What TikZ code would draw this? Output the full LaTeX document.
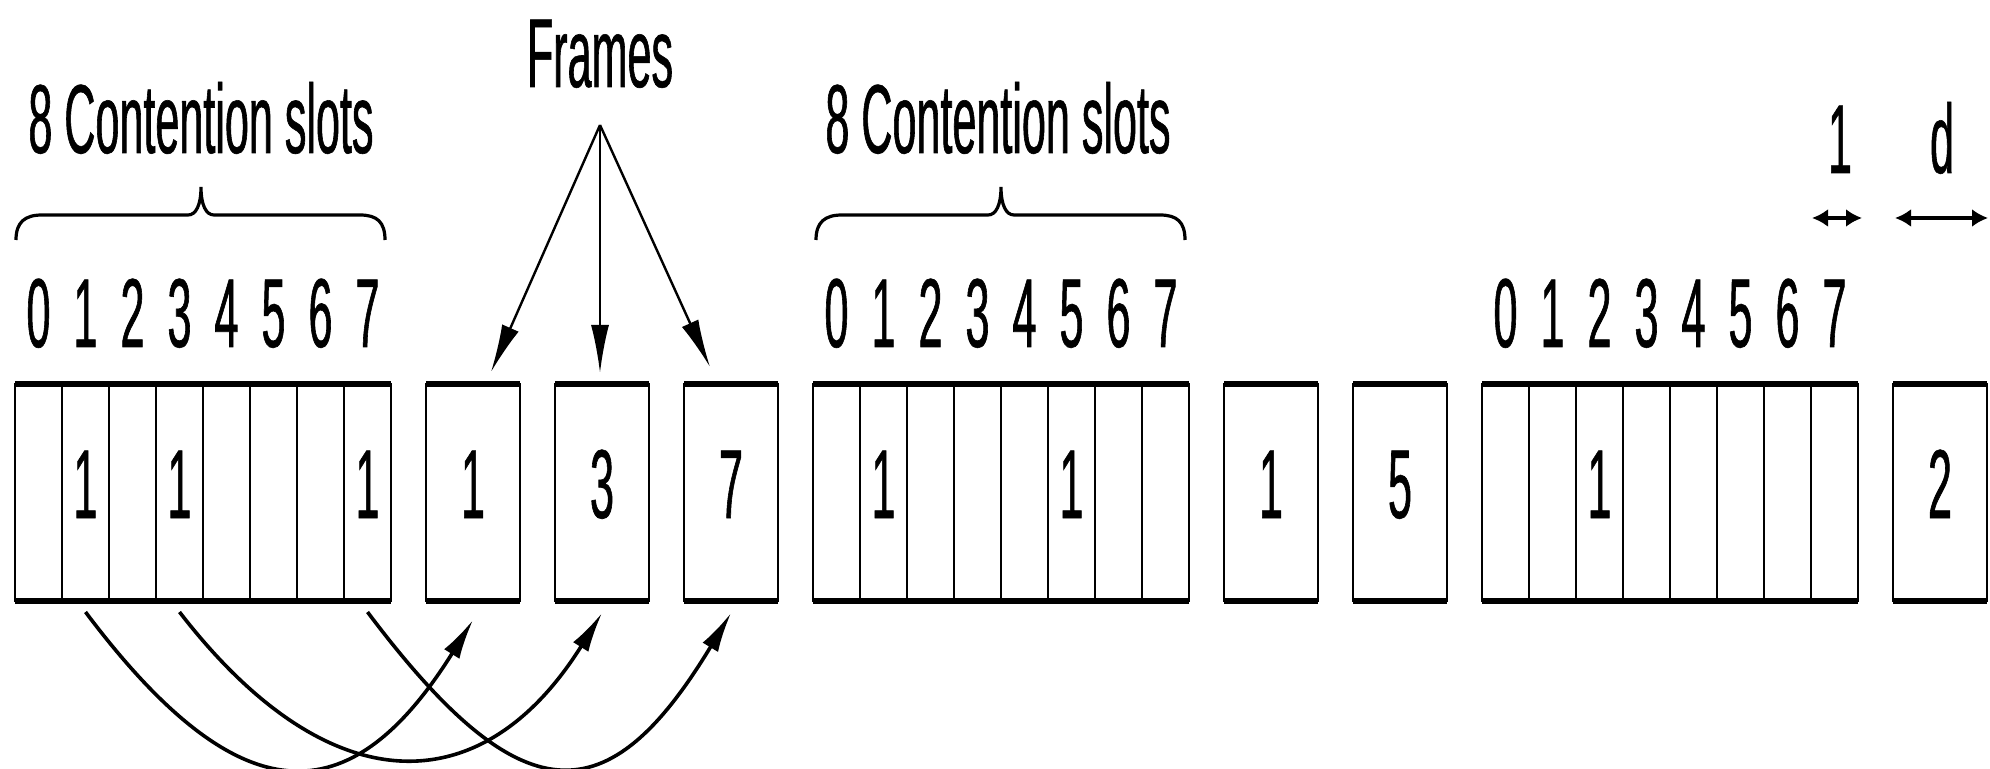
\documentclass[tikz,border=0pt]{standalone}
\usepackage{fontspec}
\setmainfont{Liberation Sans}[FakeStretch=0.44,FakeBold=0.6]
\usetikzlibrary{arrows.meta,calc}
\begin{document}
\begin{tikzpicture}[x=0.5pt,y=-0.5pt,
  every node/.style={font=\fontsize{49}{55}\selectfont, inner sep=0pt, outer sep=0pt},
  cell/.style={draw, line width=1pt, minimum width=23.5pt, minimum height=108.5pt, text height=35pt, text depth=9.5pt},
  fbox/.style={cell, minimum width=47pt},
  rim/.style={line width=3pt},
  lab/.style={anchor=base},
  bracepath/.style={line width=1.6pt},
  farrow/.style={line width=1.2pt, -{Latex[length=24pt,width=9pt]}},
  carrow/.style={line width=1.8pt, -{Latex[length=20pt,width=9pt]}},
  dimarrow/.style={line width=1.8pt, {Latex[length=8pt,width=9pt]}-{Latex[length=8pt,width=9pt]}}
]
\useasboundingbox (0,0) rectangle (1990,769);

% contention groups
\foreach \i/\t in {0/,1/1,2/,3/1,4/,5/,6/,7/1}
  \node[cell] (g1s\i) at ({15+47*\i+23.5},492.5) {\t};
\foreach \i/\t in {0/,1/1,2/,3/,4/,5/1,6/,7/}
  \node[cell] (g2s\i) at ({813+47*\i+23.5},492.5) {\t};
\foreach \i/\t in {0/,1/,2/1,3/,4/,5/,6/,7/}
  \node[cell] (g3s\i) at ({1482+47*\i+23.5},492.5) {\t};

% frames
\node[fbox] (f1) at (473,492.5) {1};
\node[fbox] (f3) at (602,492.5) {3};
\node[fbox] (f7) at (731,492.5) {7};
\node[fbox] (f1b) at (1271,492.5) {1};
\node[fbox] (f5) at (1400,492.5) {5};
\node[fbox] (f2) at (1940,492.5) {2};

% thick rims
\foreach \g in {g1,g2,g3} {
  \draw[rim] (\g s0.north west) -- (\g s7.north east);
  \draw[rim] (\g s0.south west) -- (\g s7.south east);
}
\foreach \f in {f1,f3,f7,f1b,f5,f2} {
  \draw[rim] (\f.north west) -- (\f.north east);
  \draw[rim] (\f.south west) -- (\f.south east);
}

% slot numbers
\foreach \g in {g1,g2,g3}
  \foreach \i in {0,...,7}
    \node[lab] (\g d\i) at ($(\g s\i.north)+(0,-37)$) {\i};

% captions
\node[lab] (cs1) at (201,153) {8 Contention slots};
\node[lab] (cs2) at (998,153) {8 Contention slots};
\node[lab] (frames) at (600,87) {Frames};

% braces
\draw[bracepath] (16,240) .. controls (16,222) and (25,215) .. (42,215) -- (188,215)
  .. controls (196,215) and (201,205) .. (201,187) .. controls (201,205) and (206,215) .. (214,215)
  -- (360,215) .. controls (377,215) and (385,222) .. (385,240);
\begin{scope}[xshift=400pt]
\draw[bracepath] (16,240) .. controls (16,222) and (25,215) .. (42,215) -- (188,215)
  .. controls (196,215) and (201,205) .. (201,187) .. controls (201,205) and (206,215) .. (214,215)
  -- (360,215) .. controls (377,215) and (385,222) .. (385,240);
\end{scope}

% frames arrows
\coordinate (apex) at ($(frames.base)+(0,38)$);
\draw[farrow] (apex) -- ($(f1.north)+(18,-12)$);
\draw[farrow] (apex) -- ($(f3.north)+(-2,-11)$);
\draw[farrow] (apex) -- ($(f7.north)+(-21,-17)$);

% curved arrows
\draw[carrow] ($(g1s1.south)+(0,11)$) .. controls +(154,205) and +(-123,197) .. ($(f1.south)+(0,19)$);
\draw[carrow] ($(g1s3.south)+(0,11)$) .. controls +(149,193) and +(-120,192) .. ($(f3.south)+(0,12)$);
\draw[carrow] ($(g1s7.south)+(0,11)$) .. controls +(154,205) and +(-123,204) .. ($(f7.south)+(0,12)$);

% dimension arrows
\draw[dimarrow] ($(g3s7.north west)+(1,-166)$) -- ($(g3s7.north east)+(4,-166)$);
\draw[dimarrow] ($(f2.north west)+(2,-166)$) -- ($(f2.north east)+(1,-166)$);
\node[lab] (one) at (1840,173) {1};
\node[lab] (dd) at (1942,173) {d};
\end{tikzpicture}
\end{document}
